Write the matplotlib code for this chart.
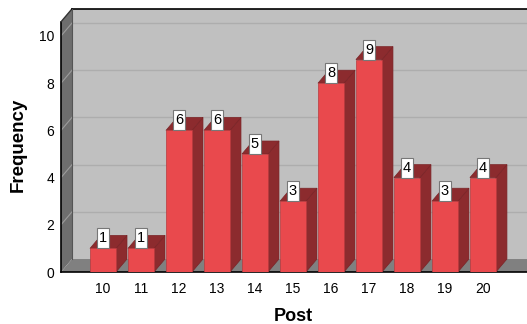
import numpy as np
import matplotlib.pyplot as plt
from matplotlib.patches import Polygon, Rectangle

plt.rcParams['font.family'] = ['Liberation Sans', 'DejaVu Sans']

posts = ['10', '11', '12', '13', '14', '15', '16', '17', '18', '19', '20']
freq = [1, 1, 6, 6, 5, 3, 8, 9, 4, 3, 4]
yticks = [0, 2, 4, 6, 8, 10]

# 3D look: depth offset in data units
dx = 0.29
dy = 0.55
ytop = 10.6
bw = 0.684
xl, xr = -1.105, 11.6

front_red = '#e9494d'
dark_red = '#8c2b2e'

fig = plt.figure(figsize=(5.27, 3.24), dpi=100)
ax = fig.add_axes([61/527, 52/324, 466/527, 272/324])
ax.set_xlim(xl, 11.16)
ax.set_ylim(0, 11.525)
for s in ax.spines.values():
    s.set_visible(False)

# back wall, left wall, floor
ax.add_patch(Polygon([(xl+dx, dy), (xl+dx, ytop+dy), (xr+dx, ytop+dy), (xr+dx, dy)],
                     closed=True, fc='#c0c0c0', ec='none', zorder=1))
ax.add_patch(Polygon([(xl, 0), (xl, ytop), (xl+dx, ytop+dy), (xl+dx, dy)],
                     closed=True, fc='#6e6e6e', ec='none', zorder=1))
ax.add_patch(Polygon([(xl, 0), (xl+dx, dy), (xr+dx, dy), (xr, 0)],
                     closed=True, fc='#808080', ec='none', zorder=1))

# gridlines on the walls
for v in yticks[1:]:
    ax.plot([xl+dx, xr+dx], [v+dy, v+dy], color='#adadad', lw=1, zorder=2)
    ax.plot([xl, xl+dx], [v, v+dy], color='#9c9c9c', lw=0.8, zorder=2)

# frame lines
ax.plot([xl, xl], [0, ytop], color='black', lw=1.2, zorder=3, clip_on=False)
ax.plot([xl, xr], [0, 0], color='black', lw=1.2, zorder=3, clip_on=False)
ax.plot([xl, xl+dx], [ytop, ytop+dy], color='#333333', lw=1, zorder=3)
ax.plot([xl+dx, xr+dx], [ytop+dy, ytop+dy], color='black', lw=1.2, zorder=3)
ax.plot([xl+dx, xl+dx], [dy, ytop+dy], color='#555555', lw=0.8, zorder=3)

# bars
x = np.arange(len(posts))
for xi, v in zip(x, freq):
    x0, x1 = xi - bw/2, xi + bw/2
    ax.add_patch(Polygon([(x1, 0), (x1+dx, dy), (x1+dx, v+dy), (x1, v)],
                         closed=True, fc=dark_red, ec='#7a2427', lw=0.5, zorder=4))
    ax.add_patch(Polygon([(x0, v), (x0+dx, v+dy), (x1+dx, v+dy), (x1, v)],
                         closed=True, fc=dark_red, ec='#7a2427', lw=0.5, zorder=4))
    ax.add_patch(Rectangle((x0, 0), bw, v, fc=front_red, ec='#b83a3e', lw=0.5, zorder=5))
    # value label box
    ax.add_patch(Rectangle((xi - 0.15, v), 0.3, 0.85, fc='white', ec='#777777',
                           lw=0.8, zorder=6))
    ax.text(xi, v + 0.42, str(v), ha='center', va='center', fontsize=10.5, zorder=7)

ax.set_xticks(x)
ax.set_xticklabels(posts, fontsize=10)
ax.set_yticks(yticks)
ax.set_yticklabels([str(t) for t in yticks], fontsize=10)
ax.tick_params(axis='both', length=0)
ax.tick_params(axis='x', pad=7)
ax.tick_params(axis='y', pad=5)

ax.set_xlabel('Post', fontsize=13, fontweight='bold')
ax.set_ylabel('Frequency', fontsize=13.5, fontweight='bold')
ax.xaxis.set_label_coords(0.498, -0.132)
ax.yaxis.set_label_coords(-0.074, 0.467)

fig.savefig('out.png', dpi=100)
